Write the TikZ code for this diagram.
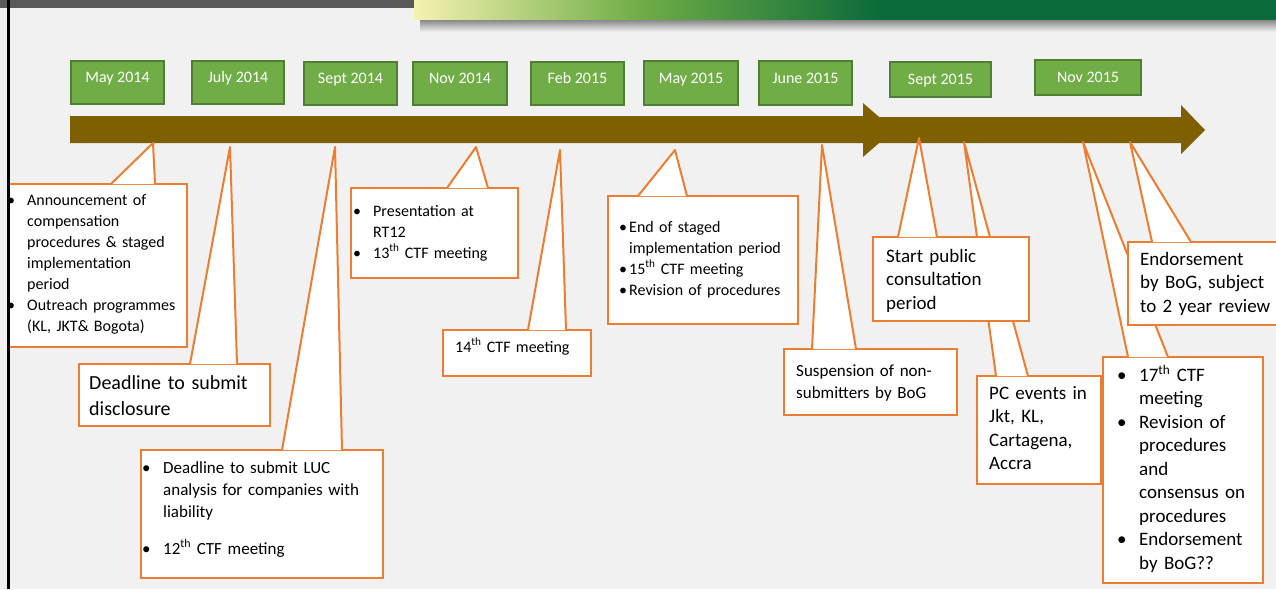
\documentclass[tikz,border=0pt]{standalone}
\usepackage{fontspec}
\setmainfont{Carlito}
\usepackage{tikz}

\definecolor{pagebg}{HTML}{F1F1F2}
\definecolor{darkbar}{HTML}{595959}
\definecolor{barA}{HTML}{F5F2B0}
\definecolor{barB}{HTML}{70AD47}
\definecolor{barC}{HTML}{0B6B3A}
\definecolor{monthgreen}{HTML}{70AD47}
\definecolor{monthedge}{HTML}{507E32}
\definecolor{calloutorange}{HTML}{ED7D31}
\definecolor{arrowbrown}{HTML}{7F6000}

\pgfdeclarehorizontalshading{topbar}{100bp}{color(0bp)=(barA); color(25bp)=(barA);
  color(38bp)=(barB); color(52bp)=(barC); color(100bp)=(barC)}

\newcommand{\bul}[1]{\hangindent=#1pt\hangafter=1\noindent\makebox[#1pt][l]{\textbullet}}

\tikzset{
  monthbox/.style={draw=monthedge, fill=monthgreen, line width=1.5pt, text=white,
    font=\fontsize{16}{19}\selectfont, inner sep=0pt, text height=8pt, text depth=8pt},
  monthboxc/.style={monthbox, text height=10.5pt, text depth=0pt},
  callbox/.style={draw=calloutorange, fill=white, line width=2pt, inner sep=0pt, anchor=north west},
  calltip/.style={draw=calloutorange, fill=white, line width=2pt, line join=round},
  calltext/.style={anchor=base west, inner sep=0pt, text width=250pt},
  fsmall/.style={font=\fontsize{16}{21}\selectfont},
  fmid/.style={font=\fontsize{17}{22}\selectfont},
  fbig/.style={font=\fontsize{19}{23.5}\selectfont},
  fhuge/.style={font=\fontsize{20}{26}\selectfont}
}

\begin{document}
\begin{tikzpicture}[x=1pt,y=-1pt]
  \useasboundingbox (0,0) rectangle (1276,589);
  \fill[pagebg] (0,0) rectangle (1276,589);
  \fill[darkbar] (0,0) rectangle (414,8);
  \shade[top color=black!50, bottom color=pagebg] (420,19) rectangle (1276,32);
  \fill[shading=topbar] (414,0) rectangle (1276,19);
  %
  \fill[arrowbrown] (70,116) -- (863,116) -- (863,103) -- (894,130) -- (863,157)
    -- (863,143) -- (70,143) -- cycle;
  \fill[arrowbrown] (870,117) -- (1181,117) -- (1181,105) -- (1205,130) -- (1181,154)
    -- (1181,143) -- (870,143) -- cycle;
  %
  \node[monthbox, minimum width=93pt, minimum height=43pt] (may14) at (117.5,82.5) {May 2014};
  \node[monthbox, minimum width=92pt, minimum height=43pt] (jul14) at (238,82.5) {July 2014};
  \node[monthbox, minimum width=93pt, minimum height=43pt] (sep14) at (350.5,83.5) {Sept 2014};
  \node[monthbox, minimum width=94pt, minimum height=43pt] (nov14) at (460,83.5) {Nov 2014};
  \node[monthbox, minimum width=93pt, minimum height=43pt] (feb15) at (577.5,83.5) {Feb 2015};
  \node[monthbox, minimum width=94pt, minimum height=44pt] (may15) at (691,83) {May 2015};
  \node[monthbox, minimum width=93pt, minimum height=44pt] (jun15) at (805.5,83) {June 2015};
  \node[monthboxc, minimum width=101pt, minimum height=35pt] (sep15) at (940.5,79.5) {Sept 2015};
  \node[monthboxc, minimum width=106pt, minimum height=35pt] (nov15) at (1088,77.5) {Nov 2015};
  %
  \coordinate (tann) at (153,143);
  \coordinate (tdisc) at (230,147);
  \coordinate (tluc) at (335,147);
  \coordinate (trt) at (476,147);
  \coordinate (tctfa) at (560,150);
  \coordinate (tstaged) at (675,150);
  \coordinate (tsusp) at (822,145);
  \coordinate (tpub) at (919,138);
  \coordinate (tpc) at (964,142);
  \coordinate (tendo) at (1130,142);
  \coordinate (tctfb) at (1083,142);
  %
  \node[callbox, minimum width=178pt, minimum height=163pt] (ann) at (8,183) {};
  \filldraw[calltip] (111,184) -- (tann) -- (155,184);
  \draw[line width=3pt] (8,0) -- (8,589);
  \node[calltext, fsmall] (annt) at (7,205) {\bul{20}Announcement of\newline compensation\newline procedures \& staged\newline implementation\newline period\par
    \bul{20}Outreach programmes\newline (KL, JKT\& Bogota)\par};
  %
  \node[callbox, minimum width=191pt, minimum height=62pt] (disc) at (78,363) {};
  \filldraw[calltip] (190,364) -- (tdisc) -- (237,364);
  \node[calltext, fhuge] (disct) at (89,389) {Deadline to submit\newline disclosure};
  %
  \node[callbox, minimum width=242pt, minimum height=128pt] (luc) at (140,449) {};
  \filldraw[calltip] (282,450) -- (tluc) -- (342,450);
  \node[calltext, fmid] (luct) at (142,473) {\bul{21}Deadline to submit LUC\newline analysis for companies with\newline liability\par
    \vspace{15pt}\bul{21}12\textsuperscript{th} CTF meeting\par};
  %
  \node[callbox, minimum width=167pt, minimum height=90pt] (rt) at (350,187) {};
  \filldraw[calltip] (447,188) -- (trt) -- (488,188);
  \node[calltext, fsmall] (rtt) at (353,216) {\bul{20}Presentation at\newline RT12\par
    \bul{20}13\textsuperscript{th} CTF meeting\par};
  %
  \node[callbox, minimum width=148pt, minimum height=46pt] (ctfa) at (442,329) {};
  \filldraw[calltip] (528,330) -- (tctfa) -- (566,330);
  \node[calltext, fsmall] (ctfat) at (455,352) {14\textsuperscript{th} CTF meeting};
  %
  \node[callbox, minimum width=190pt, minimum height=128pt] (staged) at (607,195) {};
  \filldraw[calltip] (638,196) -- (tstaged) -- (687,196);
  \node[calltext, fsmall] (stagedt) at (619,232) {\bul{10}End of staged\newline implementation period\par
    \bul{10}15\textsuperscript{th} CTF meeting\par
    \bul{10}Revision of procedures\par};
  %
  \node[callbox, minimum width=173pt, minimum height=66pt] (susp) at (783,348) {};
  \filldraw[calltip] (812,349) -- (tsusp) -- (856,349);
  \node[calltext, fmid] (suspt) at (796,376) {Suspension of non-\newline submitters by BoG};
  %
  \node[callbox, minimum width=124pt, minimum height=108pt] (pc) at (976,375) {};
  \filldraw[calltip] (996,376) -- (tpc) -- (1028,376);
  \node[calltext, fbig] (pct) at (989,399) {PC events in\newline Jkt, KL,\newline Cartagena,\newline Accra};
  %
  \node[callbox, minimum width=156pt, minimum height=84pt] (pub) at (872,236) {};
  \filldraw[calltip] (898,237) -- (tpub) -- (937,237);
  \node[calltext, fbig] (pubt) at (886,262) {Start public\newline consultation\newline period};
  %
  \node[callbox, minimum width=160pt, minimum height=226pt] (ctfb) at (1102,356) {};
  \filldraw[calltip] (1128,357) -- (tctfb) -- (1168,357);
  \node[calltext, fbig] (ctfbt) at (1117,381) {\bul{22}17\textsuperscript{th} CTF\newline meeting\par
    \bul{22}Revision of\newline procedures\newline and\newline consensus on\newline procedures\par
    \bul{22}Endorsement\newline by BoG??\par};
  %
  \node[callbox, minimum width=155pt, minimum height=83pt] (endo) at (1127,241) {};
  \filldraw[calltip] (1152,242) -- (tendo) -- (1191,242);
  \node[calltext, fbig] (endot) at (1140,265) {Endorsement\newline by BoG, subject\newline to 2 year review};
\end{tikzpicture}
\end{document}
